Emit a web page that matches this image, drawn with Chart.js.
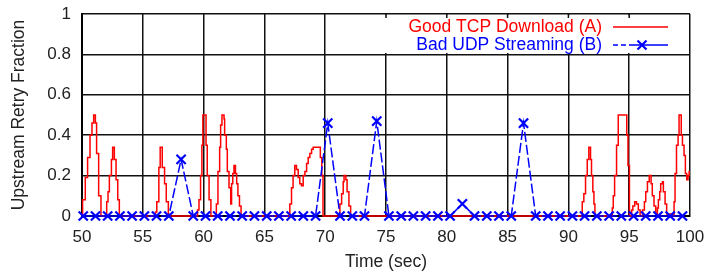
<!DOCTYPE html>
<html>
<head>
<meta charset="utf-8">
<script src="https://cdn.jsdelivr.net/npm/chart.js@4.4.0/dist/chart.umd.min.js"></script>
<style>
html,body{margin:0;padding:0;background:#fff;}
#wrap{width:704px;height:273px;position:relative;}
</style>
</head>
<body>
<div id="wrap"><canvas id="c" width="704" height="273"></canvas></div>
<script>
// Series A: Good TCP Download (step line) — [time, value] change points
const tcpTimes = [50.00,50.05,50.27,50.46,50.66,50.82,50.96,51.10,51.20,51.37,51.56,
  52.03,52.14,52.25,52.42,52.52,52.66,52.80,52.94,53.07,
  56.04,56.15,56.32,56.43,56.60,56.79,56.93,57.10,
  59.50,59.62,59.75,59.86,59.94,60.20,60.30,60.45,60.60,
  61.05,61.18,61.32,61.40,61.51,61.68,61.73,61.87,61.95,62.09,62.23,62.30,62.40,62.50,62.62,62.72,62.82,62.95,63.08,
  67.09,67.23,67.36,67.50,67.64,67.78,67.91,68.05,68.19,68.33,68.47,68.60,68.74,68.88,69.01,69.60,69.72,69.82,
  71.21,71.35,71.48,71.55,71.70,71.80,71.95,72.09,
  91.14,91.27,91.41,91.55,91.68,91.82,91.90,92.01,92.10,92.18,
  93.61,93.69,93.80,93.96,94.10,94.80,94.90,95.02,
  95.20,95.30,95.45,95.60,95.75,95.90,
  96.10,96.25,96.36,96.50,96.65,96.80,96.90,97.04,97.18,
  97.32,97.40,97.51,97.59,97.73,97.81,97.95,98.08,98.56,
  98.69,98.77,98.89,99.02,99.10,99.28,99.38,99.51,99.62,99.73,99.84,99.93,100.00];
const tcpValues = [0,0.08,0.19,0.29,0.40,0.46,0.50,0.46,0.31,0.10,0,
  0.07,0.12,0.20,0.28,0.34,0.28,0.18,0.08,0,
  0.02,0.07,0.24,0.34,0.24,0.16,0.07,0,
  0.03,0.08,0.20,0.35,0.50,0.35,0.20,0.08,0,
  0.06,0.22,0.34,0.45,0.50,0.48,0.40,0.33,0.22,0.14,0.06,0.16,0.21,0.25,0.21,0.16,0.10,0.05,0,
  0.06,0.14,0.20,0.25,0.23,0.19,0.16,0.15,0.20,0.22,0.26,0.29,0.31,0.33,0.34,0.29,0.20,0,
  0.06,0.11,0.17,0.20,0.18,0.12,0.05,0,
  0.07,0.11,0.20,0.28,0.34,0.28,0.20,0.12,0.06,0,
  0.04,0.10,0.20,0.35,0.50,0.40,0.25,0,
  0.03,0.05,0.07,0.06,0.03,0,
  0.03,0.07,0.12,0.17,0.20,0.16,0.10,0.05,0.01,
  0.04,0.08,0.12,0.16,0.17,0.12,0.06,0.01,0,
  0.07,0.21,0.35,0.40,0.50,0.40,0.35,0.30,0.21,0.18,0.20,0.22,0.22];

// Series B: Bad UDP Streaming (points with x markers)
const udpTimes = [50.10,51.11,52.11,53.12,54.12,55.13,56.13,57.14,58.15,59.15,
  60.16,61.16,62.17,63.17,64.18,65.19,66.19,67.20,68.20,69.21,
  70.21,71.22,72.23,73.23,74.24,75.24,76.25,77.25,78.26,79.27,
  80.27,81.28,82.28,83.29,84.29,85.30,86.31,87.31,88.32,89.32,
  90.33,91.33,92.34,93.35,94.35,95.36,96.36,97.37,98.37,99.38];
const udpValues = [0,0,0,0,0,0,0,0,0.28,0,
  0,0,0,0,0,0,0,0,0,0,
  0.46,0,0,0,0.47,0,0,0,0,0,
  0,0.06,0,0,0,0,0.46,0,0,0,
  0,0,0,0,0,0,0,0,0,0];

const xTicksMin = 50, xTicksMax = 100, xStep = 5;
const yTicksMin = 0, yTicksMax = 1, yStep = 0.2;
const labelA = 'Good TCP Download (A)';
const labelB = 'Bad UDP Streaming (B)';
const xTitle = 'Time (sec)';
const yTitle = 'Upstream Retry Fraction';

const FONT = "'Liberation Sans', Arial, sans-serif";
const TXT = '#222';

const legendPlugin = {
  id: 'gkey',
  beforeDatasetsDraw(chart) {
    const ctx = chart.ctx, a = chart.chartArea;
    ctx.save();
    ctx.fillStyle = '#fff';
    ctx.fillRect(378, a.top + 1, a.right - 378 - 1, 38);
    ctx.strokeStyle = '#111'; ctx.lineWidth = 1.5;
    const xs = chart.scales.x;
    for (let v = xTicksMin + xStep; v < xTicksMax; v += xStep) {
      const px = xs.getPixelForValue(v);
      if (px > 378) { ctx.beginPath(); ctx.moveTo(px, a.top); ctx.lineTo(px, a.top + 4); ctx.stroke(); }
    }
    ctx.font = '17.5px ' + FONT;
    ctx.textAlign = 'right'; ctx.textBaseline = 'middle';
    ctx.fillStyle = '#ff0000';
    ctx.fillText(labelA, 602, 27);
    ctx.fillStyle = '#0000ff';
    ctx.fillText(labelB, 602, 45);
    ctx.lineWidth = 1.5;
    ctx.strokeStyle = '#ff0000';
    ctx.beginPath(); ctx.moveTo(613, 27); ctx.lineTo(668, 27); ctx.stroke();
    ctx.strokeStyle = '#0000ff';
    ctx.setLineDash([5,3,5,3,200,1]);
    ctx.beginPath(); ctx.moveTo(613, 45); ctx.lineTo(668, 45); ctx.stroke();
    ctx.setLineDash([]);
    ctx.lineWidth = 2.2;
    const r = 4.5;
    ctx.beginPath(); ctx.moveTo(642 - r, 45 - r); ctx.lineTo(642 + r, 45 + r);
    ctx.moveTo(642 + r, 45 - r); ctx.lineTo(642 - r, 45 + r); ctx.stroke();
    ctx.restore();
  }
};

new Chart(document.getElementById('c'), {
  type: 'line',
  data: {
    datasets: [
      {
        label: labelA,
        data: tcpTimes.map((t, i) => ({x: t, y: tcpValues[i]})),
        borderColor: '#ff0000',
        borderWidth: 1.5,
        stepped: true,
        pointRadius: 0,
        fill: false,
        clip: false,
        order: 1
      },
      {
        label: labelB,
        data: udpTimes.map((t, i) => ({x: t, y: udpValues[i]})),
        borderColor: '#0000ff',
        borderWidth: 1.5,
        borderDash: [10, 3],
        pointStyle: 'crossRot',
        pointRadius: 6.5,
        pointBorderWidth: 2.2,
        pointBorderColor: '#0000ff',
        pointBackgroundColor: '#0000ff',
        fill: false,
        tension: 0,
        clip: false,
        order: 0
      }
    ]
  },
  options: {
    responsive: false,
    animation: false,
    events: [],
    layout: {padding: {left: 0, right: 14, top: 14, bottom: 0}},
    plugins: {legend: {display: false}, tooltip: {enabled: false}},
    scales: {
      x: {
        type: 'linear', min: xTicksMin, max: xTicksMax,
        ticks: {stepSize: xStep, color: TXT, font: {family: FONT, size: 17}, padding: 11, maxRotation: 0},
        grid: {color: '#111', lineWidth: 1.5, drawTicks: false},
        border: {display: true, color: '#000', width: 2},
        title: {display: true, text: xTitle, color: TXT, font: {family: FONT, size: 17.5}, padding: {top: 0, bottom: 0}},
        afterFit(s) { s.height = 57; s.paddingLeft = 0; s.paddingRight = 0; }
      },
      y: {
        type: 'linear', min: yTicksMin, max: yTicksMax,
        ticks: {stepSize: yStep, color: TXT, font: {family: FONT, size: 17}, padding: 11,
          callback: v => String(Math.round(v * 10) / 10)},
        grid: {color: '#111', lineWidth: 1.5, drawTicks: false},
        border: {display: true, color: '#000', width: 2},
        title: {display: true, text: yTitle, color: TXT, font: {family: FONT, size: 17.5}, padding: {top: 9, bottom: 0}},
        afterFit(s) { s.width = 82; s.paddingTop = 0; s.paddingBottom = 0; }
      }
    }
  },
  plugins: [legendPlugin]
});
</script>
</body>
</html>
